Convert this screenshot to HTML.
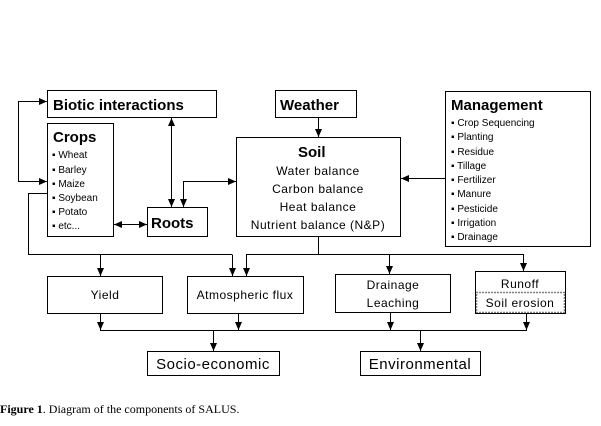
<!DOCTYPE html>
<html><head><meta charset="utf-8"><style>
body{margin:0;background:#fff;}
svg text{font-family:"Liberation Sans",sans-serif;fill:#000;}
</style></head><body>
<svg width="601" height="421" viewBox="0 0 601 421" xmlns="http://www.w3.org/2000/svg">
<defs>
<marker id="a" markerWidth="10" markerHeight="10" refX="8" refY="4" orient="auto" markerUnits="userSpaceOnUse">
<path d="M0,0.5 L8,4 L0,7.5 Z" fill="#000"/></marker>
<marker id="s" markerWidth="10" markerHeight="10" refX="0" refY="4" orient="auto" markerUnits="userSpaceOnUse">
<path d="M8,0.5 L0,4 L8,7.5 Z" fill="#000"/></marker>
</defs>
<g fill="none" stroke="#000" stroke-width="1">
<rect x="47.5" y="90.5" width="169" height="27"/>
<rect x="275.5" y="90.5" width="81" height="27"/>
<rect x="445.5" y="91.5" width="145" height="155"/>
<rect x="47.5" y="123.5" width="66" height="113"/>
<rect x="147.5" y="207.5" width="60" height="29"/>
<rect x="236.5" y="137.5" width="164" height="99"/>
<rect x="47.5" y="276.5" width="115" height="37"/>
<rect x="187.5" y="276.5" width="116" height="37"/>
<rect x="335.5" y="274.5" width="115" height="38"/>
<rect x="475.5" y="271.5" width="90" height="42"/>
<rect x="476.5" y="292.5" width="88" height="20" stroke-dasharray="1,2" stroke-width="1.5"/>
<rect x="147.5" y="351.5" width="132" height="24"/>
<rect x="360.5" y="351.5" width="120" height="24"/>
<polyline points="47,193.5 28.5,193.5 28.5,254.5 232.5,254.5"/>
<polyline points="18.5,101.5 18.5,181.5"/>
<line x1="18" y1="101.5" x2="47" y2="101.5" marker-end="url(#a)"/>
<line x1="18" y1="181.5" x2="47" y2="181.5" marker-end="url(#a)"/>
<line x1="171.5" y1="118" x2="171.5" y2="207" marker-start="url(#s)" marker-end="url(#a)"/>
<polyline points="236,181.5 183.5,181.5 183.5,207" marker-start="url(#s)" marker-end="url(#a)"/>
<line x1="114" y1="224.5" x2="147" y2="224.5" marker-start="url(#s)" marker-end="url(#a)"/>
<line x1="318.5" y1="117" x2="318.5" y2="137" marker-end="url(#a)"/>
<line x1="445" y1="178.5" x2="401" y2="178.5" marker-end="url(#a)"/>
<line x1="318.5" y1="237" x2="318.5" y2="254.5"/>
<polyline points="246.5,276 246.5,254.5 523.5,254.5 523.5,271"/>
<line x1="246.5" y1="255" x2="246.5" y2="276" marker-end="url(#a)"/>
<line x1="523.5" y1="255" x2="523.5" y2="271" marker-end="url(#a)"/>
<line x1="389.5" y1="255" x2="389.5" y2="274" marker-end="url(#a)"/>
<line x1="100.5" y1="255" x2="100.5" y2="276" marker-end="url(#a)"/>
<line x1="232.5" y1="255" x2="232.5" y2="276" marker-end="url(#a)"/>
<line x1="100.5" y1="314" x2="100.5" y2="330" marker-end="url(#a)"/>
<line x1="238.5" y1="314" x2="238.5" y2="330" marker-end="url(#a)"/>
<line x1="390.5" y1="313" x2="390.5" y2="330" marker-end="url(#a)"/>
<line x1="526.5" y1="314" x2="526.5" y2="330" marker-end="url(#a)"/>
<line x1="100" y1="330.5" x2="527" y2="330.5"/>
<line x1="213.5" y1="331" x2="213.5" y2="351" marker-end="url(#a)"/>
<line x1="420.5" y1="331" x2="420.5" y2="351" marker-end="url(#a)"/>
</g>
<g font-weight="bold" font-size="15">
<text x="53" y="110">Biotic interactions</text>
<text x="280" y="110">Weather</text>
<text x="451" y="110">Management</text>
<text x="53" y="142">Crops</text>
<text x="151" y="228">Roots</text>
<text x="298" y="157">Soil</text>
</g>
<g font-size="10">
<text x="52" y="158">▪ Wheat</text>
<text x="52" y="173">▪ Barley</text>
<text x="52" y="187">▪ Maize</text>
<text x="52" y="201">▪ Soybean</text>
<text x="52" y="215">▪ Potato</text>
<text x="52" y="229">▪ etc...</text>
<text x="451" y="126">▪ Crop Sequencing</text>
<text x="451" y="140">▪ Planting</text>
<text x="451" y="155">▪ Residue</text>
<text x="451" y="169">▪ Tillage</text>
<text x="451" y="183">▪ Fertilizer</text>
<text x="451" y="197">▪ Manure</text>
<text x="451" y="212">▪ Pesticide</text>
<text x="451" y="226">▪ Irrigation</text>
<text x="451" y="240">▪ Drainage</text>
</g>
<g font-size="12" text-anchor="middle" letter-spacing="0.5">
<text x="318" y="175">Water balance</text>
<text x="318" y="193">Carbon balance</text>
<text x="318" y="211">Heat balance</text>
<text x="318" y="229">Nutrient balance (N&amp;P)</text>
<text x="105" y="299">Yield</text>
<text x="245" y="299">Atmospheric flux</text>
<text x="393" y="289">Drainage</text>
<text x="393" y="307">Leaching</text>
<text x="520" y="288">Runoff</text>
<text x="520" y="307">Soil erosion</text>
<text x="213" y="369" font-size="15">Socio-economic</text>
<text x="420" y="369" font-size="15">Environmental</text>
</g>
<text x="0" y="413" font-size="12" style="font-family:'Liberation Serif',serif"><tspan font-weight="bold">Figure 1</tspan>.  Diagram of the components of SALUS.</text>
</svg>
</body></html>
